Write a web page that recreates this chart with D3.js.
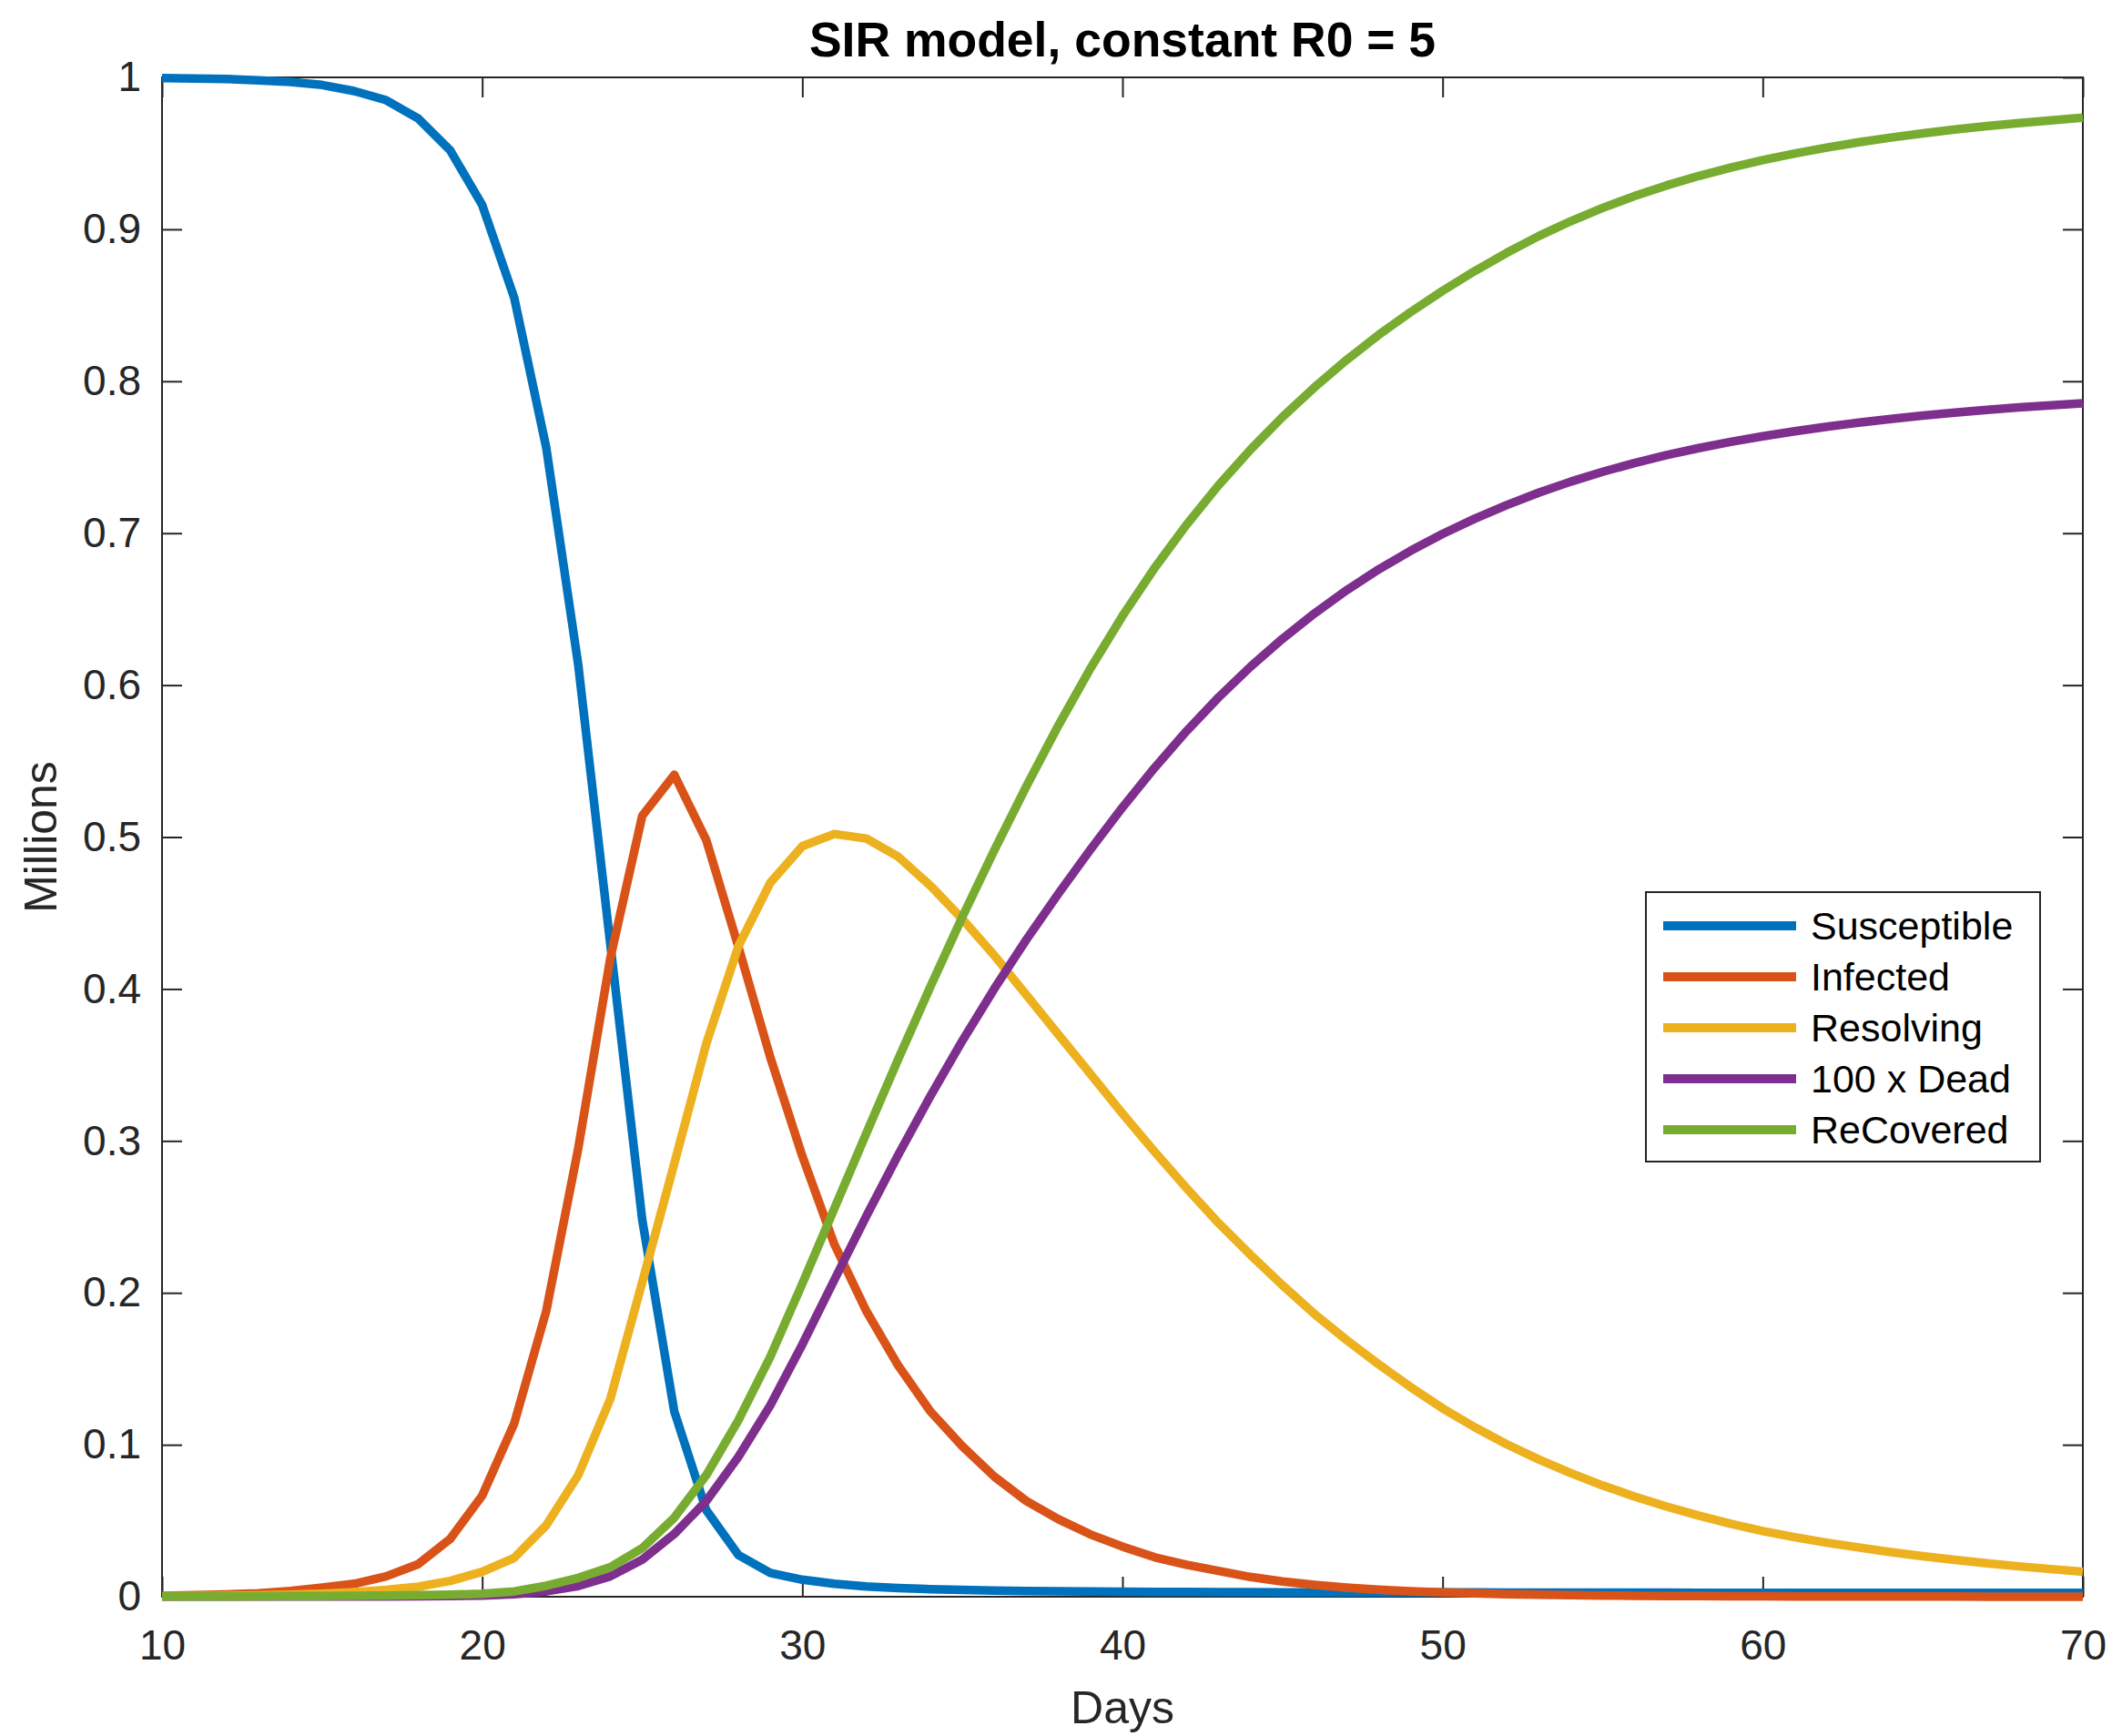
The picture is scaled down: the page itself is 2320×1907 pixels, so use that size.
<!DOCTYPE html>
<html lang="en">
<head>
<meta charset="UTF-8" />
<title>SIR model, constant R0 = 5</title>
<script src="https://d3js.org/d3.v7.min.js"></script>
<style>
  html, body {
    margin: 0;
    padding: 0;
    background: #fff;
  }
  body {
    font-family: "Liberation Sans", Arial, Helvetica, sans-serif;
  }
  .tick text {
    fill: #262626;
    font-size: 46px;
  }
  .tick line {
    stroke: #262626;
    stroke-width: 2;
  }
</style>
</head>
<body>
<div id="chart"></div>
<script>
// days on the x axis
const days = d3.range(10, 71);

// values, one per day (10 .. 70), in millions
const susceptible = [
  0.9995, 0.9993, 0.999, 0.998, 0.997, 0.995, 0.991, 0.985, 0.973, 0.952,
  0.916, 0.855, 0.7565, 0.6135, 0.43, 0.248, 0.122, 0.057, 0.0275, 0.0156,
  0.0112, 0.0085, 0.0068, 0.0057, 0.005, 0.0045, 0.0041, 0.0038, 0.0036, 0.0034,
  0.0033, 0.0032, 0.0031, 0.003, 0.003, 0.0029, 0.0029, 0.0029, 0.0028, 0.0028,
  0.0028, 0.0028, 0.0027, 0.0027, 0.0027, 0.0027, 0.0027, 0.0027, 0.0026, 0.0026,
  0.0026, 0.0026, 0.0026, 0.0026, 0.0026, 0.0026, 0.0026, 0.0026, 0.0026, 0.0026,
  0.0026
];
const infected = [
  0.0006, 0.001, 0.0015, 0.0023, 0.0037, 0.006, 0.0085, 0.0134, 0.0214, 0.038,
  0.0665, 0.114, 0.188, 0.295, 0.42, 0.514, 0.541, 0.498, 0.428, 0.355,
  0.29, 0.232, 0.188, 0.152, 0.122, 0.099, 0.079, 0.063, 0.051, 0.041,
  0.033, 0.026, 0.021, 0.017, 0.013, 0.01, 0.0078, 0.006, 0.0046, 0.0036,
  0.0028, 0.0022, 0.0017, 0.0013, 0.001, 0.0008, 0.0006, 0.0005, 0.0004, 0.0003,
  0.00025, 0.0002, 0.00017, 0.00014, 0.00012, 0.0001, 0.00008, 0.00007, 0.00006, 0.00005,
  0.00004
];
const resolving = [
  0.0003, 0.0004, 0.0006, 0.0009, 0.0013, 0.002, 0.003, 0.0045, 0.0066, 0.0104,
  0.0164, 0.0256, 0.047, 0.08, 0.13, 0.207, 0.285, 0.364, 0.428, 0.47,
  0.494, 0.502, 0.499, 0.487, 0.468, 0.446, 0.422, 0.396, 0.37, 0.344,
  0.318, 0.293, 0.269, 0.246, 0.225, 0.205, 0.186, 0.169, 0.153, 0.138,
  0.124, 0.1116, 0.1004, 0.0904, 0.0814, 0.0732, 0.0659, 0.0593, 0.0534, 0.048,
  0.0432, 0.0392, 0.0356, 0.0324, 0.0294, 0.0267, 0.0243, 0.022, 0.02, 0.0182,
  0.0165
];
const dead100 = [
  0.0001, 0.0001, 0.0001, 0.0001, 0.0001, 0.0001, 0.0001, 0.0002, 0.0003, 0.0004,
  0.0008, 0.0017, 0.0035, 0.007, 0.0134, 0.0244, 0.0413, 0.063, 0.092, 0.126,
  0.166, 0.2085, 0.2505, 0.291, 0.3295, 0.366, 0.4003, 0.4325, 0.4628, 0.4918,
  0.5195, 0.5455, 0.5697, 0.5919, 0.6121, 0.6305, 0.6472, 0.6624, 0.6761, 0.6884,
  0.6995, 0.7095, 0.7185, 0.7266, 0.7339, 0.7404, 0.7462, 0.7514, 0.756, 0.7601,
  0.7638, 0.7671, 0.7701, 0.7728, 0.7752, 0.7774, 0.7794, 0.7812, 0.7828, 0.7842,
  0.7855
];
const recovered = [
  0.0001, 0.0001, 0.0002, 0.0003, 0.0004, 0.0005, 0.0006, 0.0008, 0.001, 0.0013,
  0.002, 0.0035, 0.0072, 0.0124, 0.0194, 0.032, 0.052, 0.08, 0.116, 0.158,
  0.206, 0.2555, 0.305, 0.354, 0.4015, 0.4475, 0.4915, 0.5335, 0.5735, 0.611,
  0.6455, 0.677, 0.7055, 0.7315, 0.755, 0.7765, 0.796, 0.814, 0.8305, 0.8455,
  0.8595, 0.8725, 0.8845, 0.8955, 0.9053, 0.9141, 0.9219, 0.9289, 0.9351, 0.9406,
  0.9455, 0.9499, 0.9538, 0.9573, 0.9604, 0.9632, 0.9657, 0.9679, 0.9699, 0.9717,
  0.9735
];

const seriesNames = ["Susceptible", "Infected", "Resolving", "100 x Dead", "ReCovered"];
const seriesValues = [susceptible, infected, resolving, dead100, recovered];
const colors = ["#0072BD", "#D95319", "#EDB120", "#7E2F8E", "#77AC30"];

const xTicks = [10, 20, 30, 40, 50, 60, 70];
const yTicks = [0, 0.1, 0.2, 0.3, 0.4, 0.5, 0.6, 0.7, 0.8, 0.9, 1];

const width = 2320, height = 1907;
const plot = { left: 178, right: 2288, top: 85, bottom: 1754 };
const axisColor = "#262626";

const svg = d3.select("#chart").append("svg")
  .attr("width", width)
  .attr("height", height);

svg.append("rect")
  .attr("width", width).attr("height", height)
  .attr("fill", "#fff");

const x = d3.scaleLinear().domain([10, 70]).range([plot.left, plot.right]);
const y = d3.scaleLinear().domain([0, 1]).range([plot.bottom, plot.top]);

// axes, ticks pointing inward like matlab
const yFmt = d => d === 0 ? "0" : d === 1 ? "1" : d3.format(".1f")(d);

const bottomAxis = svg.append("g")
  .attr("transform", `translate(0,${plot.bottom})`)
  .call(d3.axisBottom(x).tickValues(xTicks).tickSize(-22).tickSizeOuter(0).tickPadding(36));
const topAxis = svg.append("g")
  .attr("transform", `translate(0,${plot.top})`)
  .call(d3.axisTop(x).tickValues(xTicks).tickSize(-22).tickSizeOuter(0).tickFormat(""));
const leftAxis = svg.append("g")
  .attr("transform", `translate(${plot.left},0)`)
  .call(d3.axisLeft(y).tickValues(yTicks).tickSize(-22).tickSizeOuter(0).tickPadding(23).tickFormat(yFmt));
const rightAxis = svg.append("g")
  .attr("transform", `translate(${plot.right},0)`)
  .call(d3.axisRight(y).tickValues(yTicks).tickSize(-22).tickSizeOuter(0).tickFormat(""));

[bottomAxis, topAxis, leftAxis, rightAxis].forEach(g => {
  g.select(".domain").remove();
  g.attr("font-family", null).attr("font-size", null);
});

svg.append("rect")
  .attr("x", plot.left).attr("y", plot.top)
  .attr("width", plot.right - plot.left)
  .attr("height", plot.bottom - plot.top)
  .attr("fill", "none")
  .attr("stroke", axisColor)
  .attr("stroke-width", 2);

// data lines
const line = d3.line()
  .x((d, i) => x(days[i]))
  .y(d => y(d));

svg.append("g").selectAll("path")
  .data(seriesValues)
  .join("path")
  .attr("d", line)
  .attr("fill", "none")
  .attr("stroke", (d, i) => colors[i])
  .attr("stroke-width", 9.5)
  .attr("stroke-linejoin", "round");

// title and axis labels
svg.append("text")
  .attr("x", (plot.left + plot.right) / 2)
  .attr("y", 62)
  .attr("text-anchor", "middle")
  .attr("font-size", 53.5)
  .attr("font-weight", "bold")
  .attr("fill", "#000")
  .text("SIR model, constant R0 = 5");

svg.append("text")
  .attr("x", (plot.left + plot.right) / 2)
  .attr("y", 1893)
  .attr("text-anchor", "middle")
  .attr("font-size", 50)
  .attr("fill", axisColor)
  .text("Days");

svg.append("text")
  .attr("transform", `translate(62,${(plot.top + plot.bottom) / 2}) rotate(-90)`)
  .attr("text-anchor", "middle")
  .attr("font-size", 50)
  .attr("fill", axisColor)
  .text("Millions");

// legend
const legend = svg.append("g").attr("transform", "translate(1808,980)");
legend.append("rect")
  .attr("width", 433).attr("height", 296)
  .attr("fill", "#fff")
  .attr("stroke", axisColor)
  .attr("stroke-width", 2);

const rows = legend.selectAll("g.row")
  .data(seriesNames)
  .join("g")
  .attr("class", "row")
  .attr("transform", (d, i) => `translate(0,${37 + i * 56})`);

rows.append("line")
  .attr("x1", 19).attr("x2", 165)
  .attr("stroke", (d, i) => colors[i])
  .attr("stroke-width", 10);

rows.append("text")
  .attr("x", 181)
  .attr("dy", "0.35em")
  .attr("font-size", 43)
  .attr("fill", "#000")
  .text(d => d);
</script>
</body>
</html>
